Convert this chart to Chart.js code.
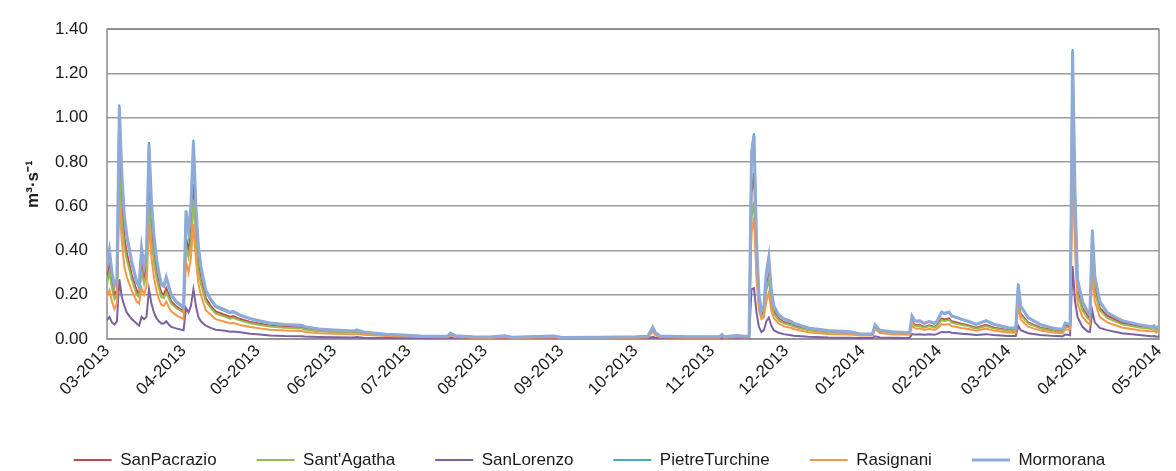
<!DOCTYPE html>
<html>
<head>
<meta charset="utf-8">
<title>Portate giornaliere</title>
<script src="https://cdn.jsdelivr.net/npm/chart.js@4/dist/chart.umd.min.js"></script>
<style>
  html, body { margin: 0; padding: 0; background: #ffffff; }
  #wrap { width: 1176px; height: 471px; }
</style>
</head>
<body>
<div id="wrap"><canvas id="flow" width="1176" height="471"></canvas></div>
<script>
// Sampling days, counted from 1 March 2013
const sampleDay = [
  0, 1, 2, 3, 4, 5, 6, 7, 8, 10,
  12, 13, 14, 15, 16, 17, 18, 19, 20, 21,
  22, 23, 24, 25, 26, 28, 31, 32, 33, 34,
  35, 36, 37, 38, 40, 42, 44, 47, 50, 51,
  54, 58, 62, 66, 72, 79, 80, 86, 92, 100,
  101, 104, 113, 120, 127, 138, 139, 141, 148, 155,
  161, 164, 181, 184, 200, 214, 219, 220, 221, 222,
  224, 235, 248, 249, 250, 255, 258, 260, 261, 262,
  263, 264, 265, 266, 267, 268, 269, 270, 272, 274,
  277, 278, 284, 292, 301, 305, 310, 311, 313, 318,
  325, 326, 327, 328, 329, 331, 333, 335, 336, 338,
  339, 341, 342, 346, 349, 352, 356, 359, 365, 368,
  369, 370, 373, 378, 384, 387, 388, 389, 390, 391,
  392, 393, 395, 397, 398, 399, 400, 402, 405, 411,
  418, 423, 424, 425, 426
];

// Discharge, m3/s
const sanPacrazio = [
  .27, .33, .25, .20, .22, .84, .60, .46, .39, .29,
  .22, .20, .34, .28, .33, .70, .50, .38, .31, .25,
  .21, .20, .23, .20, .17, .148, .125, .46, .40, .48,
  .70, .48, .34, .27, .185, .15, .125, .112, .10, .104,
  .09, .077, .069, .06, .055, .052, .047, .038, .034, .03,
  .034, .027, .018, .015, .012, .01, .021, .012, .008, .007,
  .012, .006, .011, .006, .006, .008, .01, .027, .043, .024,
  .01, .008, .008, .016, .008, .013, .01, .011, .66, .75,
  .36, .17, .11, .125, .24, .29, .18, .125, .092, .077,
  .067, .06, .042, .032, .028, .019, .02, .054, .034, .028,
  .024, .08, .066, .062, .064, .055, .062, .055, .062, .093,
  .088, .093, .08, .069, .061, .051, .064, .052, .04, .039,
  .18, .115, .075, .051, .038, .036, .06, .058, .058, 1.00,
  .52, .22, .14, .105, .092, .40, .23, .14, .105, .073,
  .058, .05, .054, .043, .052
];

const santAgatha = [
  .25, .30, .23, .18, .20, .75, .54, .42, .36, .27,
  .20, .19, .31, .25, .30, .63, .45, .35, .28, .23,
  .19, .185, .21, .185, .16, .14, .12, .42, .37, .44,
  .63, .44, .31, .25, .17, .14, .115, .104, .092, .096,
  .083, .071, .063, .056, .051, .048, .043, .035, .032, .028,
  .032, .025, .017, .014, .011, .01, .02, .012, .008, .007,
  .011, .006, .01, .005, .006, .008, .009, .025, .04, .022,
  .01, .008, .008, .015, .008, .012, .009, .01, .55, .62,
  .32, .15, .10, .115, .22, .27, .165, .115, .085, .071,
  .062, .056, .039, .03, .026, .018, .019, .05, .031, .026,
  .022, .074, .061, .058, .06, .051, .058, .051, .058, .086,
  .081, .086, .074, .064, .057, .047, .059, .048, .037, .036,
  .17, .107, .07, .047, .035, .033, .054, .052, .052, .92,
  .48, .20, .13, .095, .084, .37, .21, .13, .095, .066,
  .052, .045, .049, .039, .047
];

const sanLorenzo = [
  .085, .10, .075, .065, .08, .27, .19, .15, .12, .09,
  .07, .06, .10, .09, .10, .225, .16, .12, .095, .08,
  .07, .07, .08, .065, .055, .048, .04, .14, .12, .15,
  .225, .15, .10, .08, .06, .05, .042, .038, .033, .034,
  .03, .024, .02, .016, .013, .012, .011, .009, .008, .007,
  .009, .006, .005, .004, .004, .003, .006, .003, .003, .002,
  .003, .002, .003, .002, .002, .002, .003, .006, .01, .006,
  .003, .002, .002, .004, .002, .003, .003, .003, .225, .23,
  .12, .055, .032, .04, .08, .097, .06, .04, .028, .022,
  .017, .015, .01, .007, .006, .004, .004, .012, .007, .006,
  .005, .022, .02, .02, .021, .019, .021, .019, .022, .032,
  .031, .032, .028, .024, .021, .018, .022, .018, .014, .014,
  .06, .04, .026, .018, .013, .012, .02, .019, .017, .33,
  .17, .10, .055, .035, .032, .126, .075, .05, .04, .026,
  .018, .012, .013, .01, .012
];

const pietreTurchine = [
  .32, .39, .29, .235, .26, 1.06, .74, .55, .46, .34,
  .255, .235, .40, .32, .39, .89, .61, .46, .36, .295,
  .245, .235, .275, .235, .195, .165, .14, .58, .48, .60,
  .90, .59, .41, .32, .215, .175, .145, .13, .117, .122,
  .105, .09, .08, .07, .064, .06, .054, .044, .04, .035,
  .04, .031, .021, .017, .014, .012, .025, .014, .01, .009,
  .014, .008, .013, .007, .008, .01, .012, .032, .052, .029,
  .012, .01, .01, .019, .01, .015, .012, .013, .85, .93,
  .44, .195, .122, .145, .295, .37, .215, .145, .107, .09,
  .078, .07, .049, .037, .032, .022, .023, .062, .039, .032,
  .027, .10, .083, .078, .081, .069, .078, .069, .078, .12,
  .113, .12, .103, .088, .078, .065, .081, .066, .05, .049,
  .25, .148, .095, .064, .046, .043, .07, .067, .067, 1.31,
  .65, .265, .166, .123, .108, .495, .28, .166, .117, .081,
  .064, .054, .059, .047, .059
];

const rasignani = [
  .19, .22, .17, .135, .16, .62, .44, .33, .28, .22,
  .17, .16, .23, .20, .24, .52, .37, .28, .22, .18,
  .155, .15, .17, .145, .125, .108, .09, .35, .30, .37,
  .52, .36, .25, .20, .13, .11, .09, .08, .07, .073,
  .063, .054, .048, .042, .038, .036, .032, .026, .024, .021,
  .024, .019, .013, .011, .009, .008, .016, .009, .006, .005,
  .008, .005, .008, .004, .005, .006, .007, .02, .032, .017,
  .008, .006, .006, .012, .006, .009, .007, .008, .48, .55,
  .28, .13, .09, .10, .17, .21, .13, .095, .07, .058,
  .05, .045, .031, .023, .02, .016, .016, .045, .027, .022,
  .019, .06, .05, .046, .048, .041, .046, .041, .046, .068,
  .064, .068, .059, .05, .045, .037, .047, .038, .029, .028,
  .15, .088, .056, .038, .028, .026, .043, .042, .045, .77,
  .40, .16, .10, .075, .066, .29, .17, .10, .075, .052,
  .04, .034, .037, .029, .034
];

const mormorana = [
  .33, .40, .30, .24, .27, 1.05, .75, .56, .47, .35,
  .26, .24, .41, .33, .40, .88, .62, .47, .37, .30,
  .25, .24, .28, .24, .20, .17, .145, .58, .49, .60,
  .89, .60, .42, .33, .22, .18, .15, .135, .12, .125,
  .108, .092, .082, .072, .066, .062, .056, .045, .041, .036,
  .041, .032, .022, .018, .014, .012, .026, .015, .010, .009,
  .015, .008, .014, .007, .008, .010, .012, .033, .053, .030,
  .013, .010, .010, .020, .010, .016, .012, .013, .84, .92,
  .45, .20, .126, .15, .30, .37, .22, .15, .11, .092,
  .08, .072, .05, .038, .033, .023, .024, .064, .04, .033,
  .028, .104, .085, .08, .083, .071, .08, .071, .08, .122,
  .115, .122, .105, .09, .08, .066, .083, .067, .051, .05,
  .245, .15, .097, .065, .047, .044, .072, .068, .068, 1.30,
  .66, .27, .17, .126, .11, .49, .285, .17, .12, .083,
  .065, .055, .06, .048, .06
];

const tickLabels = [
  '03-2013', '04-2013', '05-2013', '06-2013', '07-2013', '08-2013', '09-2013', '10-2013',
  '11-2013', '12-2013', '01-2014', '02-2014', '03-2014', '04-2014', '05-2014'
];

const yTicks = [0, 0.2, 0.4, 0.6, 0.8, 1.0, 1.2, 1.4];

// Month labels -> day offsets from the first label
const DAY_MS = 86400000;
function labelToDate(lbl) {
  const [m, y] = lbl.split('-').map(Number);
  return Date.UTC(y, m - 1, 1);
}
const origin = labelToDate(tickLabels[0]);
const monthTicks = tickLabels.map(l => Math.round((labelToDate(l) - origin) / DAY_MS));

const FONT = '"Liberation Sans", Arial, sans-serif';
const TEXT = '#1a1a1a';

function series(label, values, color, width, order) {
  return {
    label,
    data: sampleDay.map((d, i) => ({ x: d, y: values[i] })),
    borderColor: color,
    backgroundColor: color,
    borderWidth: width,
    pointRadius: 0,
    pointHoverRadius: 0,
    tension: 0,
    fill: false,
    order
  };
}

const plotFrame = {
  id: 'plotFrame',
  beforeDatasetsDraw(chart) {
    const { ctx, chartArea: a } = chart;
    ctx.save();
    ctx.strokeStyle = '#8c8c8c';
    ctx.lineWidth = 1.5;
    ctx.strokeRect(a.left, a.top, a.right - a.left, a.bottom - a.top);
    ctx.restore();
  }
};

new Chart(document.getElementById('flow'), {
  type: 'line',
  data: {
    datasets: [
      series('SanPacrazio', sanPacrazio, '#BE4B48', 2, 6),
      series("Sant'Agatha", santAgatha, '#98B954', 2, 5),
      series('SanLorenzo', sanLorenzo, '#7D60A0', 2, 4),
      series('PietreTurchine', pietreTurchine, '#46AAC5', 2, 3),
      series('Rasignani', rasignani, '#F79646', 2, 2),
      series('Mormorana', mormorana, '#8EAAD8', 3, 1)
    ]
  },
  options: {
    responsive: false,
    animation: false,
    devicePixelRatio: 1,
    layout: { padding: { top: 17, right: 17, bottom: -7.5, left: 20 } },
    plugins: {
      tooltip: { enabled: false },
      legend: {
        position: 'bottom',
        labels: {
          usePointStyle: true,
          pointStyle: 'line',
          pointStyleWidth: 38,
          padding: 40,
          color: TEXT,
          font: { family: FONT, size: 17 },
          sort: (a, b) => a.datasetIndex - b.datasetIndex
        }
      }
    },
    scales: {
      x: {
        type: 'linear',
        min: monthTicks[0],
        max: monthTicks[monthTicks.length - 1],
        afterBuildTicks(scale) {
          scale.ticks = monthTicks.map(v => ({ value: v }));
        },
        afterFit(scale) { scale.height = 72.5; },
        grid: { display: false, drawTicks: false },
        border: { display: false },
        ticks: {
          autoSkip: false,
          maxRotation: 45,
          minRotation: 45,
          padding: 2,
          color: TEXT,
          font: { family: FONT, size: 17 },
          callback: (v, i) => tickLabels[i]
        }
      },
      y: {
        min: yTicks[0],
        max: yTicks[yTicks.length - 1],
        afterBuildTicks(scale) {
          scale.ticks = yTicks.map(v => ({ value: v }));
        },
        afterFit(scale) { scale.width = 87; },
        grid: { color: '#9c9c9c', lineWidth: 1.5, drawTicks: false },
        border: { display: false },
        ticks: {
          padding: 19,
          color: TEXT,
          font: { family: FONT, size: 17 },
          callback: v => v.toFixed(2)
        },
        title: {
          display: true,
          text: 'm³·s⁻¹',
          color: TEXT,
          font: { family: FONT, size: 17, weight: 'bold' },
          padding: { top: 3, bottom: 0 }
        }
      }
    }
  },
  plugins: [plotFrame]
});
</script>
</body>
</html>
